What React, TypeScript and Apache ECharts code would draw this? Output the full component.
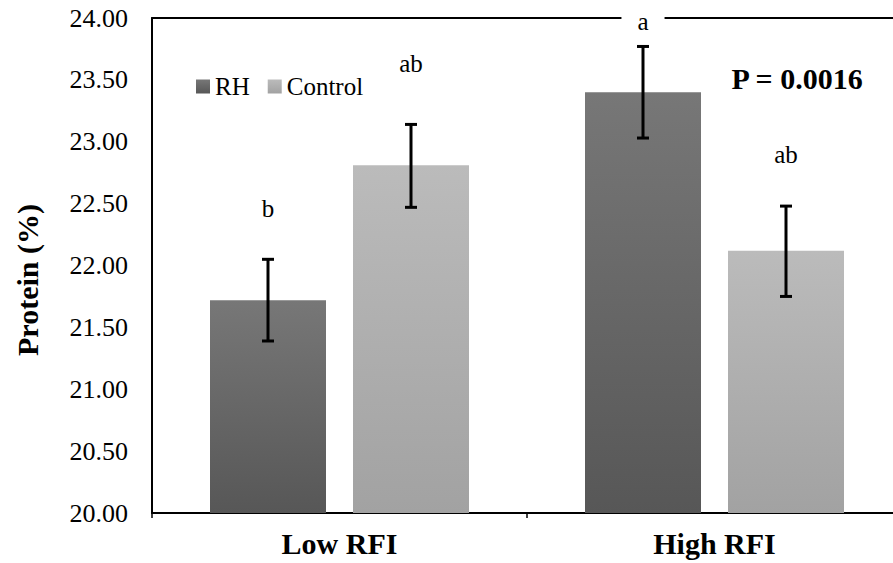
import React, { useEffect, useRef } from "react";
import * as echarts from "echarts";

const categories = ["Low RFI", "High RFI"];
const seriesNames = ["RH", "Control"];
const rhValues = [21.72, 23.4];
const controlValues = [22.81, 22.12];
const rhErrLow = [21.39, 23.03];
const rhErrHigh = [22.05, 23.77];
const controlErrLow = [22.47, 21.75];
const controlErrHigh = [23.14, 22.48];
const rhLetters = ["b", "a"];
const controlLetters = ["ab", "ab"];
const rhLetterY = [22.46, 23.97];
const controlLetterY = [23.63, 22.9];
const yTicks = [20, 20.5, 21, 21.5, 22, 22.5, 23, 23.5, 24];

const FONT = "Liberation Serif";
const BAR_W = 116;
const BAR_GAP_PX = 27;
const CHART_W = 1000;

function makeErrSeries(name: string, idx: number, lows: number[], highs: number[], letters: string[], letterY: number[]) {
  const sign = idx === 0 ? -1 : 1;
  return {
    type: "custom",
    name: name + " err",
    coordinateSystem: "cartesian2d",
    z: 5,
    silent: true,
    data: categories.map((_, i) => [i, lows[i], highs[i], letterY[i]]),
    renderItem: (params: any, api: any) => {
      const ci = api.value(0);
      const off = sign * (BAR_W + BAR_GAP_PX) / 2;
      const lo = api.coord([ci, api.value(1)]);
      const hi = api.coord([ci, api.value(2)]);
      const lt = api.coord([ci, api.value(3)]);
      const x = lo[0] + off;
      const cap = 6;
      const ls = { stroke: "#000", lineWidth: 3 };
      return {
        type: "group",
        children: [
          { type: "line", shape: { x1: x, y1: lo[1], x2: x, y2: hi[1] }, style: ls },
          { type: "line", shape: { x1: x - cap, y1: lo[1], x2: x + cap, y2: lo[1] }, style: ls },
          { type: "line", shape: { x1: x - cap, y1: hi[1], x2: x + cap, y2: hi[1] }, style: ls },
          {
            type: "text",
            x: x,
            y: lt[1],
            style: {
              text: letters[params.dataIndex],
              fontFamily: FONT,
              fontSize: 25,
              fill: "#000",
              align: "center",
              verticalAlign: "middle",
              backgroundColor: "#fff",
              padding: [0, 16],
            },
          },
        ],
      };
    },
  };
}

export default function App() {
  const ref = useRef<HTMLDivElement>(null);
  useEffect(() => {
    if (!ref.current) return;
    const chart = echarts.init(ref.current, null, { renderer: "svg" });
    const darkGrad = new echarts.graphic.LinearGradient(0, 0, 0, 1, [
      { offset: 0, color: "#777777" },
      { offset: 1, color: "#575757" },
    ]);
    const lightGrad = new echarts.graphic.LinearGradient(0, 0, 0, 1, [
      { offset: 0, color: "#bbbbbb" },
      { offset: 1, color: "#a2a2a2" },
    ]);
    chart.setOption({
      animation: false,
      backgroundColor: "#fff",
      grid: {
        left: 152,
        top: 18,
        right: CHART_W - 902,
        bottom: 50,
        show: false,
      },
      legend: {
        data: seriesNames,
        left: 191,
        top: 69,
        itemWidth: 14,
        itemHeight: 14,
        itemGap: 18,
        itemStyle: { borderWidth: 0 },
        icon: "rect",
        textStyle: { fontFamily: FONT, fontSize: 25, color: "#000" },
      },
      xAxis: [
        {
          type: "category",
          data: categories,
          axisLine: { lineStyle: { color: "#000", width: 2 } },
          axisTick: { show: true, length: 5, lineStyle: { color: "#000", width: 1.5 } },
          axisLabel: {
            fontFamily: FONT,
            fontSize: 30,
            fontWeight: "bold",
            color: "#000",
            margin: 15,
          },
        },
        {
          type: "category",
          data: categories,
          position: "top",
          axisLine: { show: true, lineStyle: { color: "#000", width: 2 } },
          axisTick: { show: false },
          axisLabel: { show: false },
        },
      ],
      yAxis: {
        type: "value",
        min: 20,
        max: 24,
        interval: 0.5,
        axisLine: { show: true, lineStyle: { color: "#000", width: 2 } },
        axisTick: { show: false },
        splitLine: { show: false },
        axisLabel: {
          fontFamily: FONT,
          fontSize: 26,
          color: "#000",
          margin: 24,
          formatter: (v: number) => (yTicks.includes(v) ? v.toFixed(2) : ""),
        },
      },
      graphic: [
        {
          type: "text",
          x: 27,
          y: 280,
          rotation: Math.PI / 2,
          style: {
            text: "Protein (%)",
            fontFamily: FONT,
            fontSize: 30,
            fontWeight: "bold",
            fill: "#000",
            align: "center",
            verticalAlign: "middle",
          },
        },
        {
          type: "text",
          x: 797,
          y: 78,
          style: {
            text: "P = 0.0016",
            fontFamily: FONT,
            fontSize: 30,
            fontWeight: "bold",
            fill: "#000",
            align: "center",
            verticalAlign: "middle",
          },
        },
      ],
      series: [
        {
          type: "bar",
          name: seriesNames[0],
          data: rhValues,
          barWidth: BAR_W,
          barGap: (BAR_GAP_PX / BAR_W) * 100 + "%",
          itemStyle: { color: darkGrad },
        },
        {
          type: "bar",
          name: seriesNames[1],
          data: controlValues,
          barWidth: BAR_W,
          barGap: (BAR_GAP_PX / BAR_W) * 100 + "%",
          itemStyle: { color: lightGrad },
        },
        makeErrSeries(seriesNames[0], 0, rhErrLow, rhErrHigh, rhLetters, rhLetterY),
        makeErrSeries(seriesNames[1], 1, controlErrLow, controlErrHigh, controlLetters, controlLetterY),
      ],
    });
    return () => chart.dispose();
  }, []);
  return (
    <div
      style={{ position: "fixed", left: 0, top: 0, width: 893, height: 563, overflow: "hidden" }}
    >
      <div ref={ref} style={{ width: CHART_W, height: 563 }} />
    </div>
  );
}
